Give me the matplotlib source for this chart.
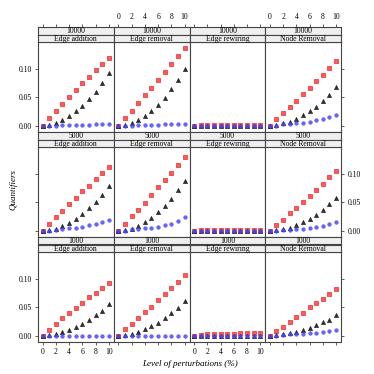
import matplotlib
matplotlib.use("Agg")
import matplotlib.pyplot as plt

plt.rcParams['font.family'] = ['Liberation Serif', 'DejaVu Serif']

# perturbation levels and panel labels
levels = [0, 1, 2, 3, 4, 5, 6, 7, 8, 9, 10]
sizes = ["10000", "5000", "1000"]
perturbations = ["Edge addition", "Edge removal", "Edge rewiring", "Node Removal"]

# red squares, one list per perturbation (addition, removal, rewiring, node removal)
red_10000 = [
    [0, 0.014, 0.026, 0.038, 0.050, 0.063, 0.074, 0.085, 0.097, 0.109, 0.119],
    [0, 0.014, 0.026, 0.039, 0.053, 0.066, 0.080, 0.094, 0.109, 0.122, 0.137],
    [0, 0.0005, 0.0005, 0.0005, 0.0005, 0.0005, 0.0005, 0.0005, 0.0005, 0.0005, 0.0005],
    [0, 0.012, 0.022, 0.033, 0.044, 0.055, 0.066, 0.078, 0.089, 0.101, 0.113],
]
red_5000 = [
    [0, 0.012, 0.024, 0.035, 0.047, 0.058, 0.069, 0.079, 0.090, 0.101, 0.111],
    [0, 0.012, 0.025, 0.036, 0.049, 0.062, 0.076, 0.089, 0.102, 0.116, 0.129],
    [0, 0.0005, 0.001, 0.001, 0.001, 0.001, 0.001, 0.001, 0.001, 0.001, 0.001],
    [0, 0.010, 0.019, 0.030, 0.040, 0.051, 0.061, 0.071, 0.082, 0.094, 0.104],
]
red_1000 = [
    [0, 0.010, 0.020, 0.030, 0.039, 0.049, 0.058, 0.067, 0.075, 0.084, 0.093],
    [0, 0.011, 0.020, 0.031, 0.042, 0.051, 0.063, 0.073, 0.084, 0.095, 0.107],
    [0, 0.001, 0.002, 0.002, 0.003, 0.003, 0.003, 0.004, 0.004, 0.004, 0.004],
    [0, 0.008, 0.015, 0.023, 0.032, 0.040, 0.050, 0.057, 0.065, 0.073, 0.082],
]

# black triangles
black_10000 = [
    [0, 0.001, 0.004, 0.009, 0.016, 0.025, 0.034, 0.046, 0.059, 0.074, 0.092],
    [0, 0.001, 0.005, 0.009, 0.016, 0.025, 0.036, 0.049, 0.064, 0.081, 0.100],
    [0, 0, 0, 0, 0, 0, 0, 0, 0, 0, 0],
    [0, 0.001, 0.004, 0.007, 0.012, 0.018, 0.026, 0.033, 0.044, 0.054, 0.067],
]
black_5000 = [
    [0, 0.001, 0.002, 0.008, 0.014, 0.020, 0.029, 0.039, 0.050, 0.063, 0.078],
    [0, 0.001, 0.002, 0.008, 0.015, 0.022, 0.032, 0.044, 0.056, 0.071, 0.088],
    [0, 0, 0, 0, 0, 0, 0, 0, 0, 0, 0],
    [0, 0.001, 0.002, 0.005, 0.009, 0.015, 0.020, 0.028, 0.036, 0.046, 0.058],
]
black_1000 = [
    [0, 0.001, 0.002, 0.006, 0.010, 0.015, 0.020, 0.028, 0.036, 0.044, 0.055],
    [0, 0.001, 0.002, 0.006, 0.011, 0.016, 0.022, 0.030, 0.039, 0.049, 0.061],
    [0, 0, 0, 0, 0, 0, 0, 0, 0, 0, 0],
    [0, 0.001, 0.002, 0.004, 0.006, 0.009, 0.013, 0.018, 0.024, 0.028, 0.036],
]

# blue circles
blue_10000 = [
    [0, 0, 0, 0.0005, 0.001, 0.001, 0.0015, 0.0015, 0.002, 0.002, 0.0025],
    [0, 0, 0, 0.0005, 0.001, 0.001, 0.0015, 0.002, 0.002, 0.0025, 0.003],
    [0, 0, 0, 0, 0, 0, 0, 0, 0, 0, 0],
    [0, 0, 0.002, 0.003, 0.004, 0.005, 0.007, 0.009, 0.011, 0.015, 0.019],
]
blue_5000 = [
    [0, 0, 0.001, 0.002, 0.004, 0.005, 0.007, 0.009, 0.012, 0.015, 0.018],
    [0, 0, 0.002, 0.002, 0.004, 0.005, 0.007, 0.009, 0.012, 0.016, 0.023],
    [0, 0, 0, 0, 0, 0, 0, 0, 0, 0, 0],
    [0, 0, 0.001, 0.001, 0.002, 0.003, 0.005, 0.006, 0.008, 0.011, 0.015],
]
blue_1000 = [
    [0, 0, 0, 0, 0, 0, 0, 0, 0, 0, 0],
    [0, 0, 0, 0, 0, 0, 0, 0, 0, 0, 0],
    [0, 0, 0, 0, 0, 0, 0, 0, 0, 0, 0],
    [0, 0, 0.001, 0.002, 0.002, 0.003, 0.004, 0.005, 0.006, 0.008, 0.010],
]

red = [red_10000, red_5000, red_1000]
black = [black_10000, black_5000, black_1000]
blue = [blue_10000, blue_5000, blue_1000]

xticks = [0, 2, 4, 6, 8, 10]
yticks = [0.0, 0.05, 0.10]
ytick_labels = ["0.00", "0.05", "0.10"]

W = H = 374.0
fig = plt.figure(figsize=(W / 100, H / 100), dpi=100)

# panel geometry in pixels
left0 = 38.0
pw = 75.75
top0 = 42.0
ph = 89.5
row_step = 105.0
sh = 7.5
frame = "#444444"
fs = 5.5


def px_axes(x, y_top, w, h):
    return fig.add_axes([x / W, 1 - (y_top + h) / H, w / W, h / H])


def style_frame(ax):
    for sp in ax.spines.values():
        sp.set_color(frame)
        sp.set_linewidth(0.8)


for r in range(3):
    for c in range(4):
        x = left0 + c * pw
        yt = top0 + r * row_step
        ax = px_axes(x, yt, pw, ph)
        ax.set_xlim(-0.7, 10.75)
        ax.set_ylim(-0.0105, 0.147)
        style_frame(ax)

        ax.scatter(levels, red[r][c], marker="s", s=9, facecolor="#ff5a5a",
                   edgecolor="#ee2a2a", linewidth=0.5, zorder=3)
        ax.scatter(levels, black[r][c], marker="^", s=9, facecolor="#333333",
                   edgecolor="#111111", linewidth=0.4, zorder=4)
        ax.scatter(levels, blue[r][c], marker="o", s=7, facecolor="#4b4bff",
                   edgecolor="#3030ee", linewidth=0.3, alpha=0.85, zorder=5)

        ax.set_xticks(xticks)
        ax.set_yticks(yticks)
        ax.tick_params(direction="out", length=2.5, width=0.6, color=frame,
                       labelsize=fs, pad=2,
                       bottom=(r == 2), labelbottom=(r == 2 and c % 2 == 0),
                       top=False, labeltop=False,
                       left=(c == 0), labelleft=(c == 0 and r != 1),
                       right=(c == 3), labelright=(c == 3 and r == 1))
        if c == 0 and r != 1:
            ax.set_yticklabels(ytick_labels)
        if c == 3 and r == 1:
            ax.set_yticklabels(ytick_labels)

        # two strips: size on top, perturbation below
        for k, label in enumerate([sizes[r], perturbations[c]]):
            st = px_axes(x, yt - sh * (2 - k), pw, sh)
            st.set_facecolor("#efefef")
            style_frame(st)
            st.set_xlim(-0.7, 10.75)
            st.set_yticks([])
            st.text(0.5, 0.45, label, transform=st.transAxes, ha="center",
                    va="center", fontsize=fs)
            if r == 0 and k == 0:
                st.set_xticks(xticks)
                st.tick_params(direction="out", length=2.5, width=0.6,
                               color=frame, labelsize=fs, pad=2,
                               bottom=False, labelbottom=False,
                               top=True, labeltop=(c % 2 == 1))
            else:
                st.set_xticks([])

fig.text(14 / W, 1 - 190 / H, "Quantifiers", rotation=90, ha="center",
         va="center", fontsize=6.5, style="italic")
fig.text(190 / W, 1 - 364 / H, "Level of perturbations (%)", ha="center",
         va="center", fontsize=6.5, style="italic")

fig.savefig("out.png", dpi=100)
